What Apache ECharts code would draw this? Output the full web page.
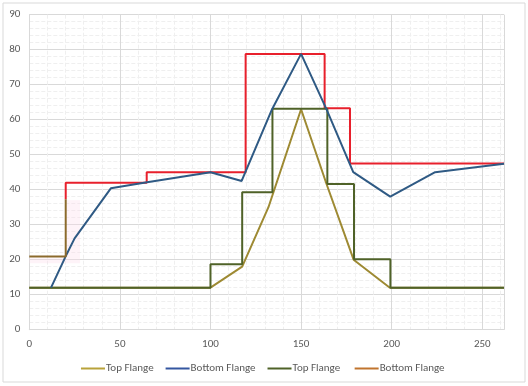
<!DOCTYPE html>
<html><head><meta charset="utf-8">
<script src="https://cdn.jsdelivr.net/npm/echarts@6/dist/echarts.min.js"></script>
<style>html,body{margin:0;padding:0;background:#fff}#c{width:528px;height:386px}</style>
</head><body><div id="c"></div>
<script>
// Top Flange (line)
var topX = [0, 100, 117.5, 132, 150, 164, 179, 199, 262];
var topY = [12, 12, 18, 35, 63, 41.7, 20, 12, 12];
// Bottom Flange (line)
var botX = [12, 20, 25, 45, 65, 100, 117.2, 134, 150, 164, 178.8, 199.2, 224, 262];
var botY = [12, 20.9, 26.1, 40.4, 42.1, 45, 42.5, 63, 78.8, 63, 45, 38, 45, 47.4];
// Top Flange (step)
var topStepX = [0, 100, 100, 117.5, 117.5, 134.2, 134.2, 164.5, 164.5, 179.2, 179.2, 199.3, 199.3, 262];
var topStepY = [12, 12, 18.7, 18.7, 39.3, 39.3, 63.1, 63.1, 41.6, 41.6, 20.1, 20.1, 12, 12];
// Bottom Flange (step), lower part
var botStepX = [0, 20.1, 20.1];
var botStepY = [20.9, 20.9, 37.3];
// Bottom Flange (step), upper part
var botStepX2 = [20.1, 20.1, 64.8, 64.8, 119.4, 119.4, 163, 163, 177, 177, 262];
var botStepY2 = [37.3, 42, 42, 45, 45, 78.8, 78.8, 63.3, 63.3, 47.5, 47.5];

function pairs(xs, ys) { return xs.map(function (x, i) { return [x, ys[i]]; }); }

var chart = echarts.init(document.getElementById('c'));
var font = 'Calibri, "Liberation Sans", "DejaVu Sans", sans-serif';
var lineIcon = 'path://M0,0L24,0L24,2L0,2Z';
chart.setOption({
  animation: false,
  textStyle: { fontFamily: font },
  graphic: [{
    type: 'rect', left: 2.5, top: 2.5, silent: true, z: -10,
    shape: { width: 522, height: 379 },
    style: { fill: '#fff', stroke: '#d9d9d9', lineWidth: 1 }
  }],
  grid: { left: 29.3, right: 24, top: 14.7, bottom: 56.3, containLabel: false },
  legend: {
    top: 358, left: 'center', itemWidth: 24, itemHeight: 2, itemGap: 12,
    icon: lineIcon,
    textStyle: { color: '#595959', fontSize: 11, fontFamily: font, padding: [0, 0, 0, -4] },
    data: [
      { name: 'Top Flange', itemStyle: { color: '#b8a23a' } },
      { name: 'Bottom Flange', itemStyle: { color: '#3456a0' } },
      { name: 'Top Flange ', itemStyle: { color: '#4f6228' } },
      { name: 'Bottom Flange ', itemStyle: { color: '#c0742e' } }
    ]
  },
  xAxis: {
    type: 'value', min: 0, max: 262, interval: 50,
    axisLine: { show: true, lineStyle: { color: '#d9d9d9' } },
    axisTick: { show: false },
    axisLabel: { color: '#595959', fontSize: 11, margin: 9, showMaxLabel: false },
    splitLine: { show: true, lineStyle: { color: '#d9d9d9', width: 1 } },
    minorTick: { show: false, splitNumber: 5 },
    minorSplitLine: { show: true, lineStyle: { color: '#efefef', type: 'dashed', width: 1 } }
  },
  yAxis: {
    type: 'value', min: 0, max: 90, interval: 10,
    axisLine: { show: true, lineStyle: { color: '#d9d9d9' } },
    axisTick: { show: false },
    axisLabel: { color: '#595959', fontSize: 11, margin: 9 },
    splitLine: { show: true, lineStyle: { color: '#d9d9d9', width: 1 } },
    minorTick: { show: false, splitNumber: 5 },
    minorSplitLine: { show: true, lineStyle: { color: '#efefef', type: 'dashed', width: 1 } }
  },
  series: [
    { name: 'Top Flange', type: 'line', symbol: 'none', data: pairs(topX, topY),
      lineStyle: { color: '#9e8a33', width: 2 }, itemStyle: { color: '#9e8a33' }, z: 2 },
    { name: 'Bottom Flange', type: 'line', symbol: 'none', data: pairs(botX, botY),
      lineStyle: { color: '#2f5a84', width: 2 }, itemStyle: { color: '#2f5a84' }, z: 4 },
    { name: 'Top Flange ', type: 'line', symbol: 'none', data: pairs(topStepX, topStepY),
      lineStyle: { color: '#4f6228', width: 2 }, itemStyle: { color: '#4f6228' }, z: 3 },
    { name: 'Bottom Flange ', type: 'line', symbol: 'none', data: pairs(botStepX, botStepY),
      lineStyle: { color: '#8c6a2c', width: 2 }, itemStyle: { color: '#8c6a2c' }, z: 5,
      markArea: { silent: true, itemStyle: { color: 'rgba(252,222,234,0.35)' },
        data: [[{ coord: [0, 19] }, { coord: [28, 20.4] }], [{ coord: [20.8, 20.4] }, { coord: [28, 37] }]] } },
    { name: 'Bottom Flange  ', type: 'line', symbol: 'none', data: pairs(botStepX2, botStepY2),
      lineStyle: { color: '#e8202c', width: 2 }, itemStyle: { color: '#e8202c' }, z: 1 }
  ]
});
</script></body></html>
